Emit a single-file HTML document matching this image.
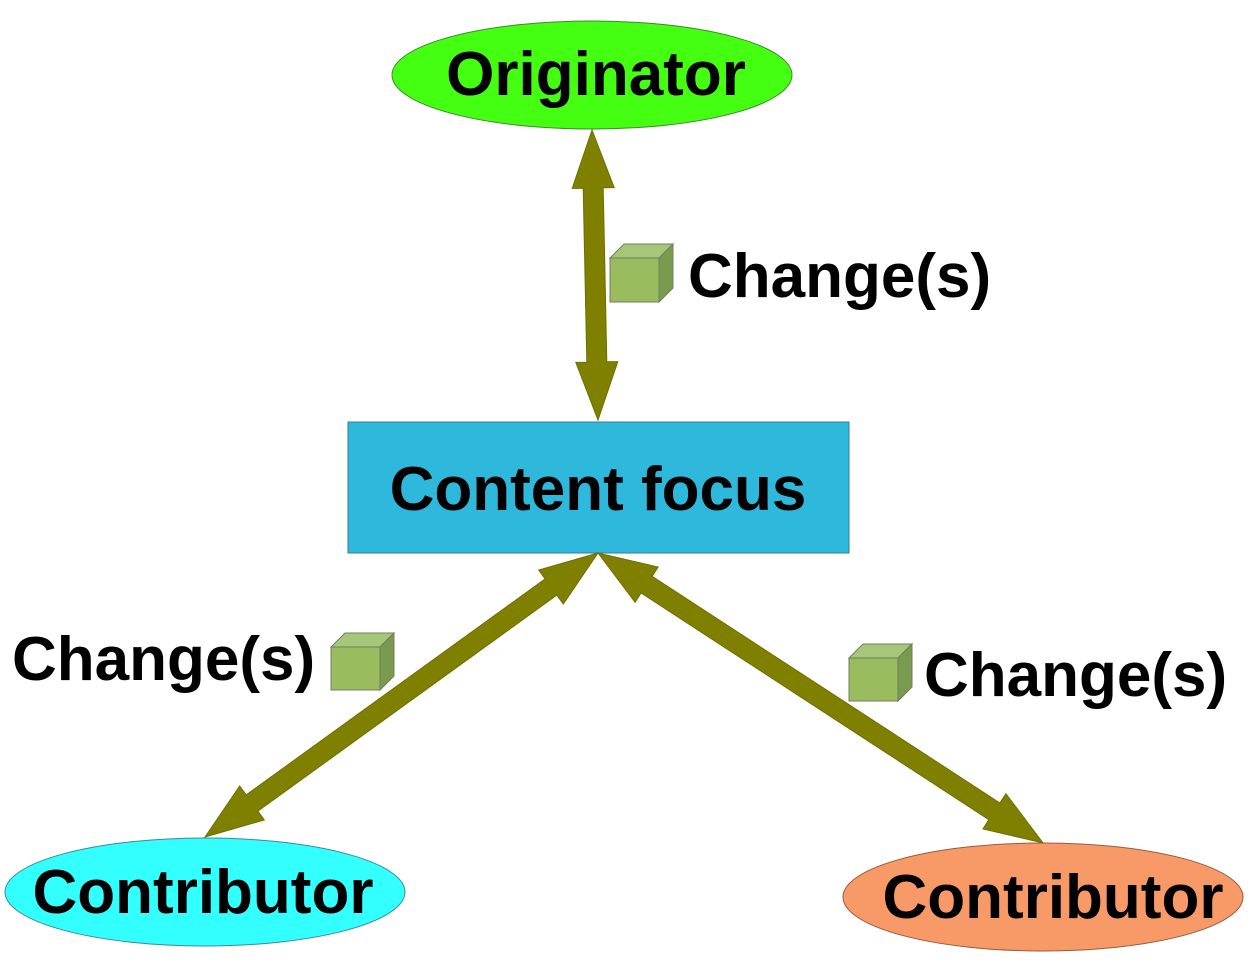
<!DOCTYPE html>
<html><head><meta charset="utf-8"><style>
html,body{margin:0;padding:0;background:#fff;}
svg{display:block;}
text{font-family:"Liberation Sans",Arial,sans-serif;font-weight:bold;fill:#000;}
</style></head><body>
<svg id="s" width="1254" height="969" viewBox="0 0 1254 969" xmlns="http://www.w3.org/2000/svg">
<ellipse cx="592" cy="75" rx="200" ry="54" fill="#44ff11" stroke="#3a8a2a" stroke-width="1"/>
<text x="596" y="95" font-size="62" text-anchor="middle">Originator</text>
<rect x="348" y="422" width="501" height="131" fill="#2db8dc" stroke="#3a7a9a" stroke-width="1"/>
<text x="598" y="510" font-size="62" text-anchor="middle">Content focus</text>
<ellipse cx="205" cy="892" rx="200" ry="54" fill="#33ffff" stroke="#3a8a9a" stroke-width="1"/>
<text x="203" y="913" font-size="62" text-anchor="middle">Contributor</text>
<ellipse cx="1043" cy="897" rx="200" ry="54" fill="#f79a68" stroke="#9a5a3a" stroke-width="1"/>
<text x="1053" y="918" font-size="62" text-anchor="middle">Contributor</text>
<text x="688" y="297" font-size="62">Change(s)</text>
<text x="12" y="680" font-size="62">Change(s)</text>
<text x="924" y="696" font-size="62">Change(s)</text>
<g id="arrows"></g>
<g id="cubes"></g>
</svg>
<script>
function arrow(x1,y1,x2,y2){
  var dx=x2-x1,dy=y2-y1,L=Math.hypot(dx,dy),ux=dx/L,uy=dy/L,nx=-uy,ny=ux;
  var sw=10,hw=21,hl=58;
  function p(t,o){return [x1+ux*t+nx*o, y1+uy*t+ny*o];}
  var pts=[p(0,0),p(hl,hw),p(hl,sw),p(L-hl,sw),p(L-hl,hw),p(L,0),p(L-hl,-hw),p(L-hl,-sw),p(hl,-sw),p(hl,-hw)];
  return '<polygon points="'+pts.map(function(a){return a[0].toFixed(1)+','+a[1].toFixed(1)}).join(' ')+'" fill="#808000" stroke="#6e6e00" stroke-width="1"/>';
}
function cube(x,y,w,h,d){
  return '<polygon points="'+x+','+y+' '+(x+d)+','+(y-d)+' '+(x+w+d)+','+(y-d)+' '+(x+w)+','+y+'" fill="#a6c77a" stroke="#6f7f60"/>'+
  '<polygon points="'+(x+w)+','+y+' '+(x+w+d)+','+(y-d)+' '+(x+w+d)+','+(y+h-d)+' '+(x+w)+','+(y+h)+'" fill="#7a9a50" stroke="#6f7f60"/>'+
  '<rect x="'+x+'" y="'+y+'" width="'+w+'" height="'+h+'" fill="#9bbb5f" stroke="#6f7f60"/>';
}
document.getElementById('arrows').innerHTML=arrow(592,130,598,420)+arrow(598,553,205,837)+arrow(598,553,1043,843);
document.getElementById('cubes').innerHTML=cube(610,258,49,44,14)+cube(331,647,49,43,14)+cube(849,658,49,43,14);
</script>
</body></html>
